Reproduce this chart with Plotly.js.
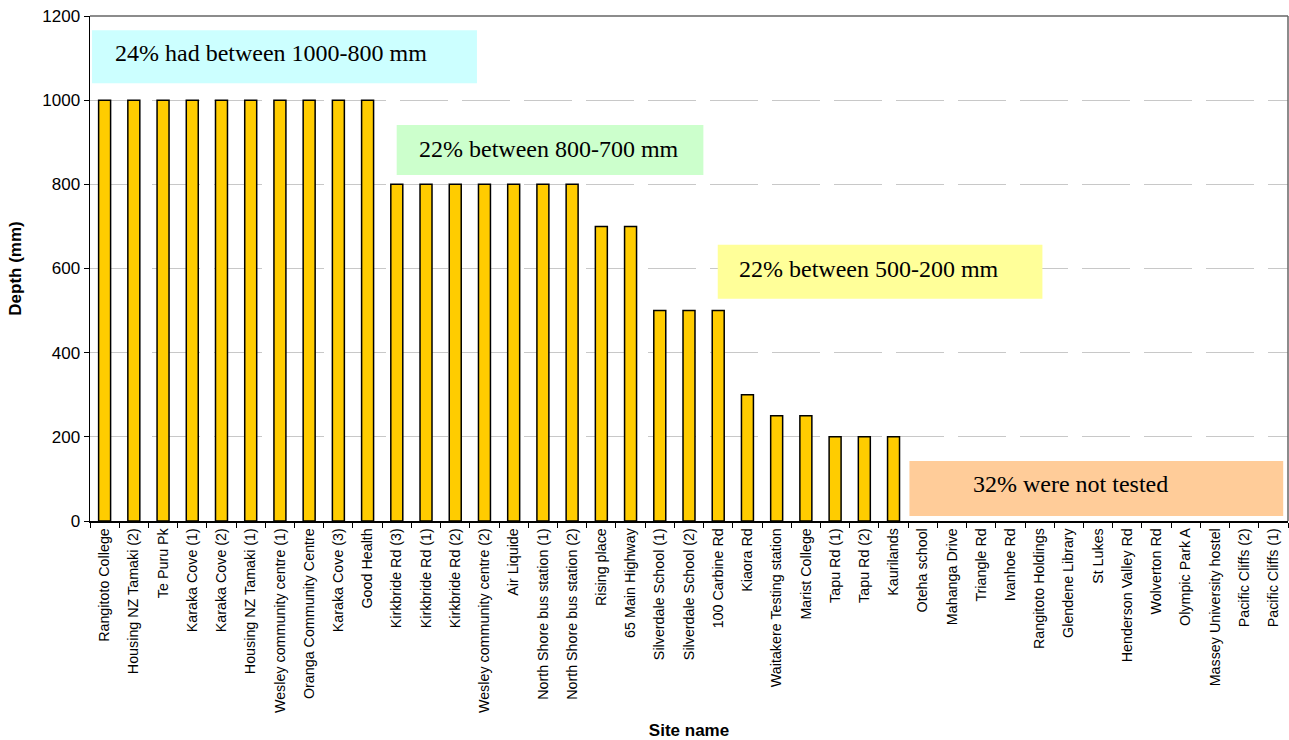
<!DOCTYPE html>
<html>
<head>
<meta charset="utf-8">
<script src="https://cdn.plot.ly/plotly-3.0.1.min.js"></script>
<style>html,body{margin:0;padding:0;background:#fff;}#chart{width:1289px;height:740px;}</style>
</head>
<body>
<div id="chart"></div>
<script>
const sites = [
  "Rangitoto College","Housing NZ Tamaki (2)","Te Puru Pk","Karaka Cove (1)","Karaka Cove (2)",
  "Housing NZ Tamaki (1)","Wesley community centre (1)","Oranga Community Centre","Karaka Cove (3)","Good Health",
  "Kirkbride Rd (3)","Kirkbride Rd (1)","Kirkbride Rd (2)","Wesley community centre (2)","Air Liquide",
  "North Shore bus station (1)","North Shore bus station (2)","Rising place","65 Main Highway",
  "Silverdale School (1)","Silverdale School (2)","100 Carbine Rd","Kiaora Rd","Waitakere Testing station",
  "Marist College","Tapu Rd (1)","Tapu Rd (2)","Kaurilands","Oteha school","Mahanga Drive","Triangle Rd",
  "Ivanhoe Rd","Rangitoto Holdings","Glendene Library","St Lukes","Henderson Valley Rd","Wolverton Rd",
  "Olympic Park A","Massey University hostel","Pacific Cliffs (2)","Pacific Cliffs (1)"
];
const depths = [
  1000,1000,1000,1000,1000,1000,1000,1000,1000,1000,
  800,800,800,800,800,800,800,700,700,
  500,500,500,300,250,250,200,200,200,
  null,null,null,null,null,null,null,null,null,null,null,null,null
];
const yTicks = [0,200,400,600,800,1000,1200];
const notes = [
  "24% had between 1000-800 mm",
  "22% between 800-700 mm",
  "22% between 500-200 mm",
  "32% were not tested"
];
const noteColors = ["#CCFFFF","#CCFFCC","#FFFF99","#FFCC99"];

const boxes = [
  {x0:0.0017,x1:0.323,y0:0.867,y1:0.972,tx:0.0192,ty:0.927},
  {x0:0.256,x1:0.512,y0:0.685,y1:0.784,tx:0.273,ty:0.737},
  {x0:0.524,x1:0.795,y0:0.440,y1:0.547,tx:0.540,ty:0.499},
  {x0:0.684,x1:0.996,y0:0.0099,y1:0.119,tx:0.735,ty:0.073}
];

const shapes = boxes.map((b,i)=>({type:'rect',xref:'paper',yref:'paper',x0:b.x0,x1:b.x1,y0:b.y0,y1:b.y1,
  fillcolor:noteColors[i],line:{width:0},layer:'above'}));
const annotations = boxes.map((b,i)=>({xref:'paper',yref:'paper',x:b.tx,y:b.ty,xanchor:'left',yanchor:'middle',
  text:notes[i],showarrow:false,font:{family:'Liberation Serif, Times New Roman, serif',size:24,color:'#000'}}));

const trace = {
  type:'bar', x:sites, y:depths,
  marker:{color:'#FFCC00',line:{color:'#000',width:1.5}},
  hoverinfo:'x+y'
};

const layout = {
  width:1289, height:740,
  margin:{l:90,r:1,t:16,b:219},
  paper_bgcolor:'#fff', plot_bgcolor:'#fff',
  bargap:0.59,
  showlegend:false,
  font:{family:'Liberation Sans, Arial, sans-serif',color:'#000'},
  xaxis:{
    type:'category', tickangle:-90, tickfont:{size:14.3},
    ticks:'outside', ticklen:5, tickcolor:'#000', tickson:'boundaries',
    showline:true, linecolor:'#000', linewidth:1.5, mirror:false,
    showgrid:false, zeroline:false,
    title:{text:'<b>Site name</b>',font:{size:17},standoff:16}
  },
  yaxis:{
    range:[0,1200], tickvals:yTicks, ticktext:yTicks.map(String), tickfont:{size:17},
    ticks:'outside', ticklen:5, tickcolor:'#000',
    showline:true, linecolor:'#000', linewidth:1.5,
    showgrid:true, gridcolor:'#c8c8c8', gridwidth:1, griddash:'48px,14px',
    zeroline:false,
    title:{text:'<b>Depth (mm)</b>',font:{size:17},standoff:16}
  },
  shapes: shapes.concat([
    {type:'line',xref:'paper',yref:'paper',x0:0,x1:1,y0:1,y1:1,line:{color:'#666',width:1.5}},
    {type:'line',xref:'paper',yref:'paper',x0:1,x1:1,y0:0,y1:1,line:{color:'#666',width:1.5}}
  ]),
  annotations: annotations
};

Plotly.newPlot('chart',[trace],layout,{displayModeBar:false,staticPlot:true});
</script>
</body>
</html>
